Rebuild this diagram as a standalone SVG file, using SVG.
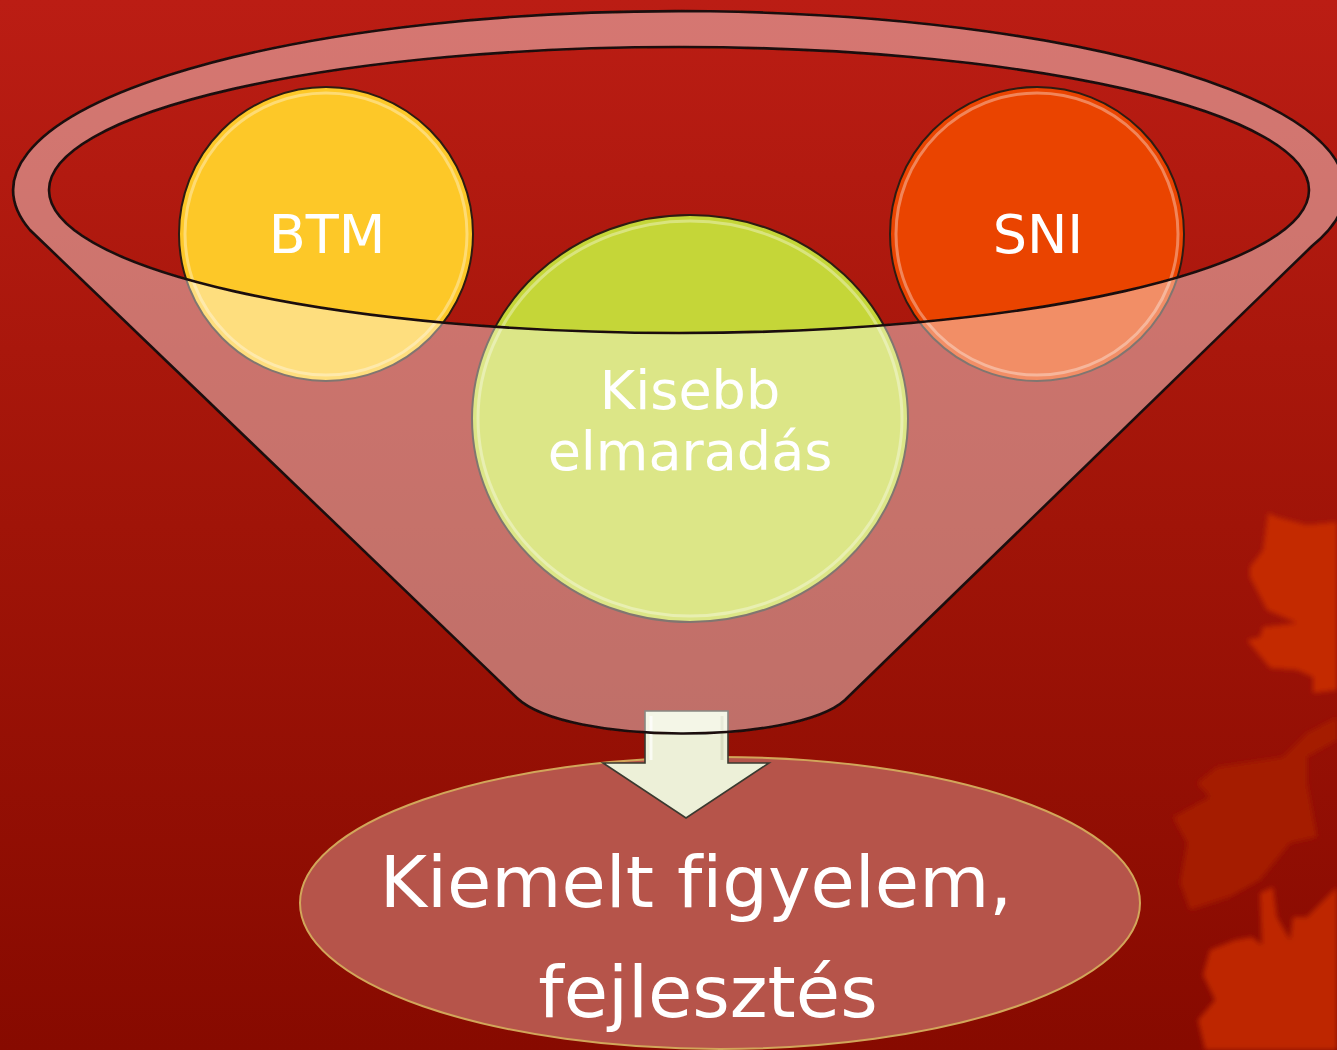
<svg xmlns="http://www.w3.org/2000/svg" width="1337" height="1050" viewBox="0 0 1337 1050">
<defs>
<linearGradient id="bg" x1="0" y1="0" x2="0" y2="1">
<stop offset="0" stop-color="#bb1d14"/>
<stop offset="0.5" stop-color="#a01408"/>
<stop offset="1" stop-color="#870a00"/>
</linearGradient>
<filter id="blur" x="-20%" y="-20%" width="140%" height="140%"><feGaussianBlur stdDeviation="2.5"/></filter>
<filter id="soft" x="-5%" y="-5%" width="110%" height="110%"><feGaussianBlur stdDeviation="0.6"/></filter>
<style>
.lbl{font-family:"DejaVu Sans","Verdana",sans-serif;fill:#ffffff;text-anchor:middle;font-variant-ligatures:none;font-feature-settings:"liga" 0,"clig" 0}
.ball{stroke:#2e1c12;stroke-width:2}
.gloss{fill:none;stroke:#ffffff;stroke-opacity:0.35;stroke-width:3}
.funnel-line{fill:none;stroke:#1a100e;stroke-width:2.6}
</style>
</defs>
<rect x="0" y="0" width="1337" height="1050" fill="url(#bg)"/>
<g id="leaves" filter="url(#blur)">
<path d="M1268,513 L1277,517 L1307,525 L1337,522 L1337,690 L1313,693 L1313,677 L1297,670 L1270,668 L1247,640 L1260,637 L1263,627 L1297,623 L1267,610 L1250,577 L1250,567 L1263,550 Z" fill="#c42a02"/>
<path d="M1337,717 L1307,733 L1283,757 L1217,767 L1197,783 L1210,797 L1173,817 L1187,843 L1180,883 L1190,910 L1230,897 L1260,880 L1290,843 L1317,837 L1307,783 L1307,757 L1337,740 Z" fill="#a51a04"/>
<path d="M1260,893 L1273,887 L1277,917 L1290,940 L1293,917 L1307,917 L1337,887 L1337,1050 L1205,1050 L1198,1020 L1215,1000 L1203,975 L1210,950 L1235,940 L1252,937 L1262,945 Z" fill="#be2802"/>
</g>
<g id="node-result">
<ellipse cx="720" cy="903" rx="420" ry="146" fill="#b6544a" stroke="#d2a65a" stroke-width="2"/>
<text class="lbl" x="696" y="907" font-size="72">Kiemelt figyelem,</text>
<text class="lbl" x="708" y="1017" font-size="72">fejlesztés</text>
</g>
<g id="connectors">
<path d="M645,711 L728,711 L728,763 L769,763 L686,818 L603,763 L645,763 Z" fill="#edf0d8" stroke="#3a3a30" stroke-width="1.6" stroke-linejoin="miter"/>
<path d="M651,716 L651,760" stroke="#ffffff" stroke-opacity="0.7" stroke-width="3"/>
<path d="M722,716 L722,760" stroke="#d8dcc0" stroke-width="3"/>
</g>
<g id="node-btm">
<circle class="ball" cx="326" cy="234" r="147" fill="#fdc828"/>
<circle class="gloss" cx="326" cy="234" r="141"/>
</g>
<g id="node-sni">
<circle class="ball" cx="1037" cy="234" r="147" fill="#ea4400"/>
<circle class="gloss" cx="1037" cy="234" r="141"/>
</g>
<g id="node-kisebb">
<ellipse class="ball" cx="690" cy="418.5" rx="218" ry="203.5" fill="#c5d638"/>
<ellipse class="gloss" cx="690" cy="418.5" rx="212" ry="197.5"/>
</g>
<g id="node-funnel">
<path d="M30,230 A666 179 0 1 1 1312,246 L845,700 C795,745 567,745 517,698 Z M49,190 A630 143 0 1 0 1309,190 A630 143 0 1 0 49,190 Z" fill="#ffffff" fill-opacity="0.4" fill-rule="evenodd"/>
<path class="funnel-line" filter="url(#soft)" d="M30,230 A666 179 0 1 1 1312,246 L845,700 C795,745 567,745 517,698 Z"/>
<ellipse class="funnel-line" filter="url(#soft)" cx="679" cy="190" rx="630" ry="143"/>
</g>
<g id="labels">
<text class="lbl" x="327" y="253" font-size="54">BTM</text>
<text class="lbl" x="1038" y="253" font-size="54">SNI</text>
<text class="lbl" x="690" y="409" font-size="54">Kisebb</text>
<text class="lbl" x="690" y="470" font-size="54">elmaradás</text>
</g>
</svg>
